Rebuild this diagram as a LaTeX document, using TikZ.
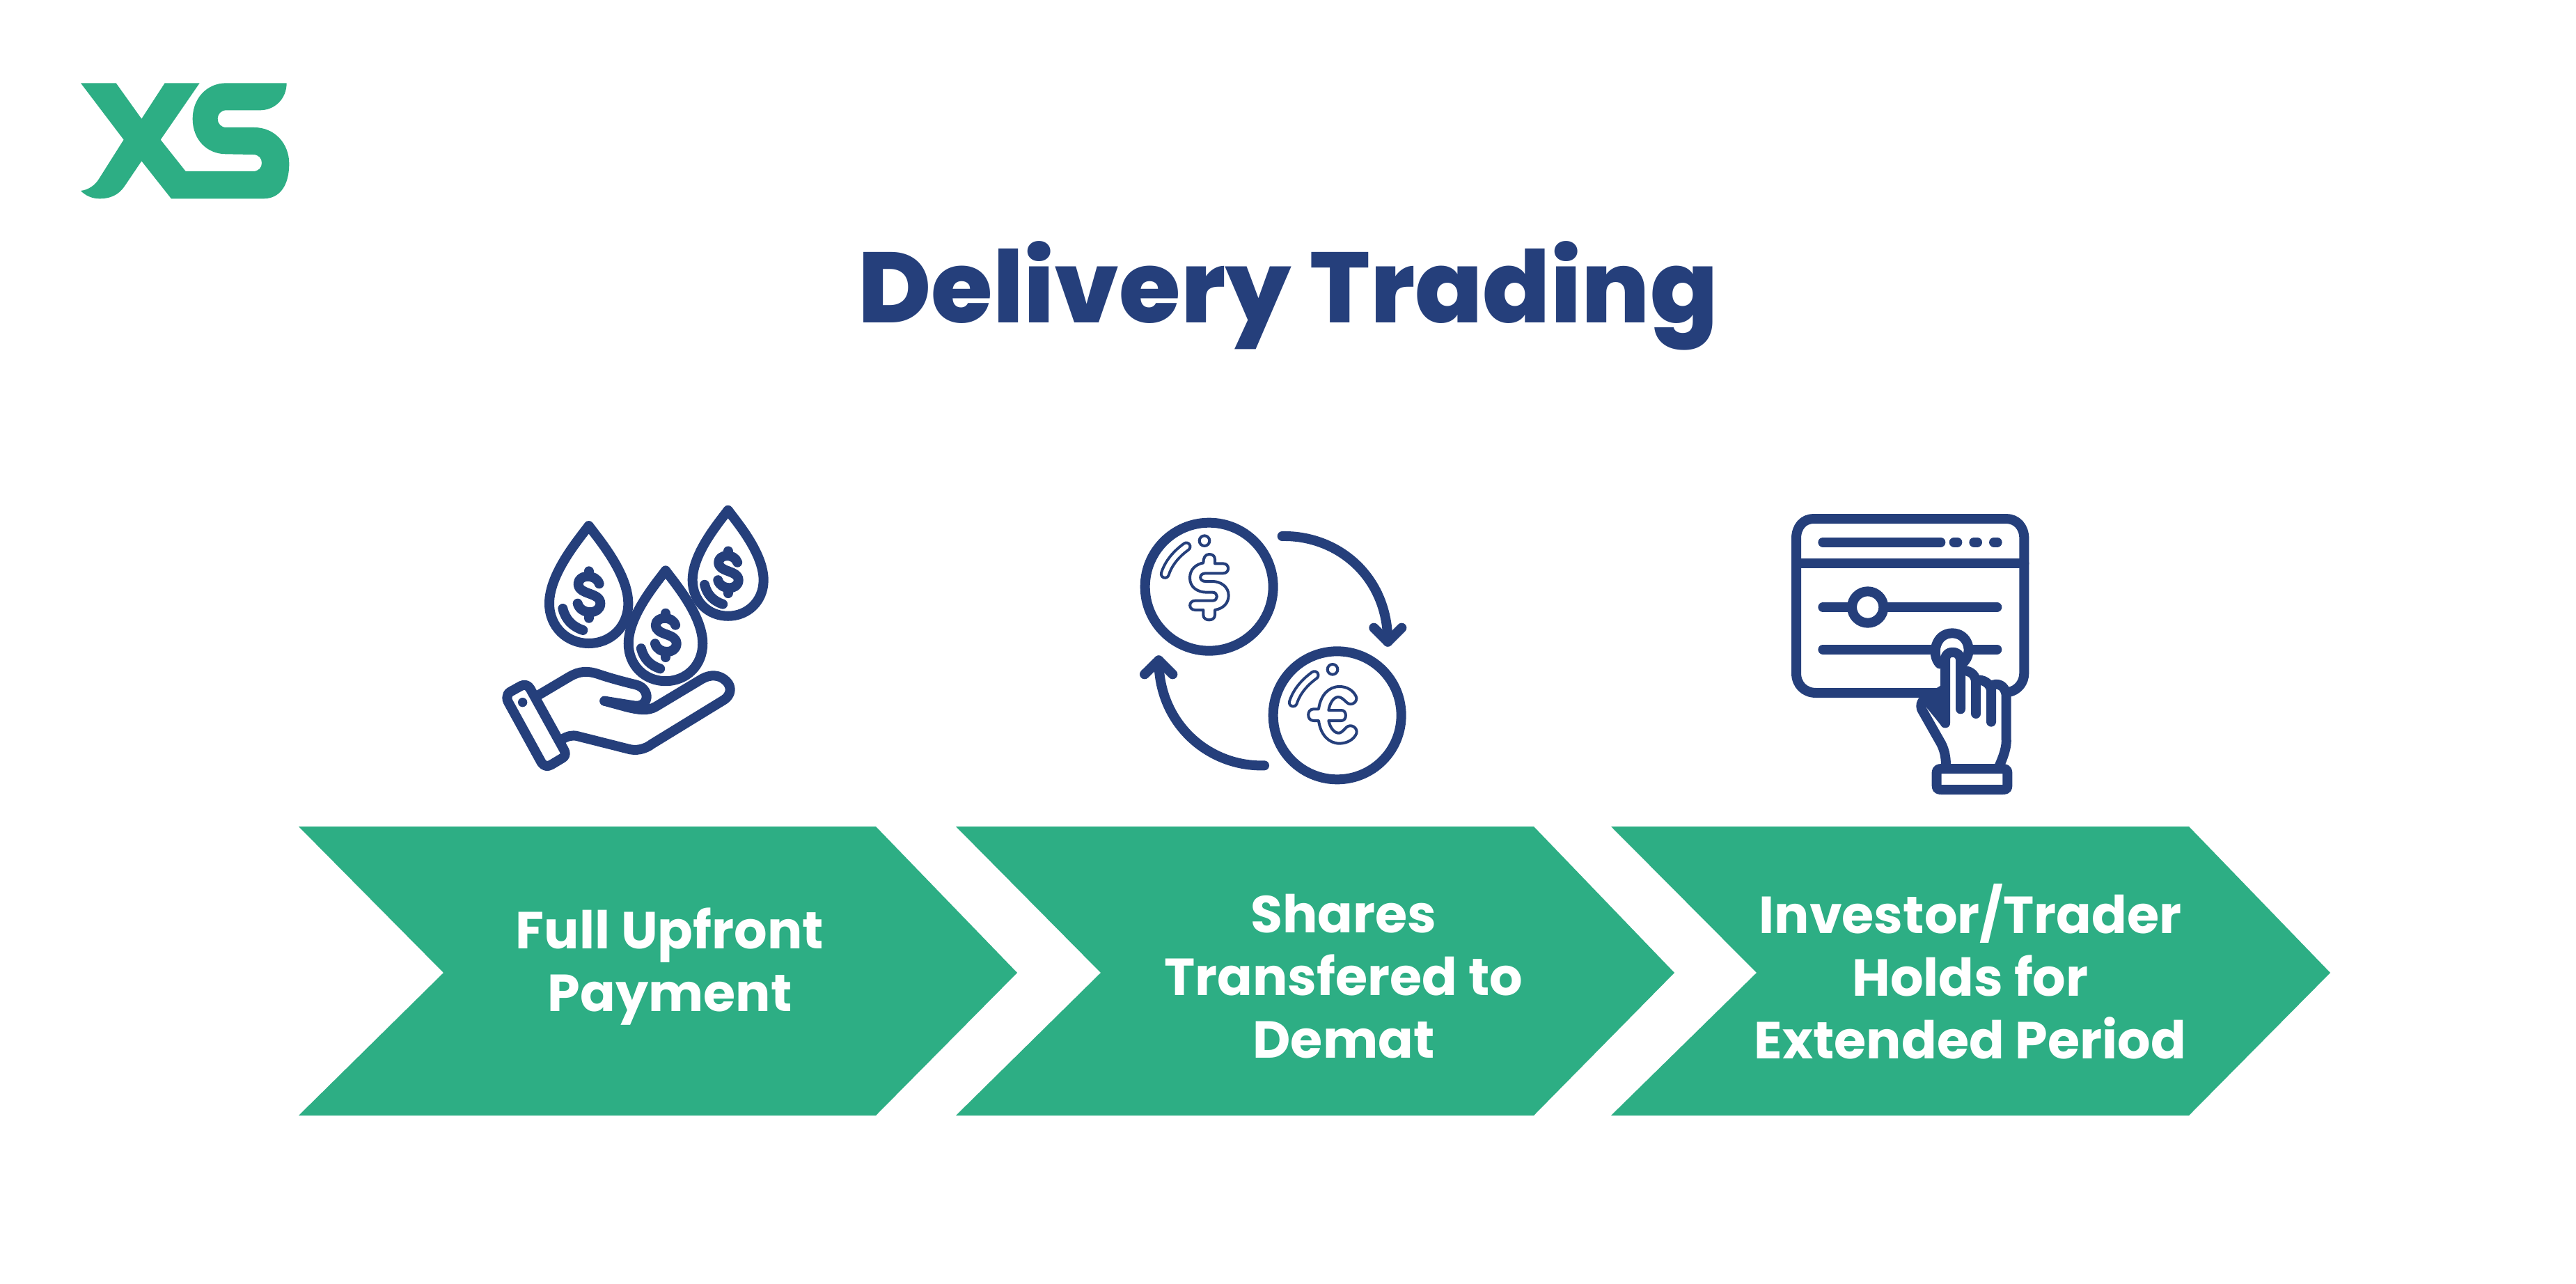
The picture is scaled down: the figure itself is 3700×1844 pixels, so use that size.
\documentclass[tikz,border=0pt]{standalone}
\usepackage{fontspec}
\setmainfont{Poppins}
\newfontfamily\titlefont{Poppins ExtraBold}
\definecolor{xsgreen}{HTML}{2DAE84}
\definecolor{xsnavy}{HTML}{253F7B}
\tikzset{
  x=1pt,y=-1pt,
  chevtext/.style={text=white,font=\bfseries\fontsize{74.8}{90}\selectfont,align=center,inner sep=0pt},
  icon/.style={draw=xsnavy,line width=14pt,line cap=round,line join=round,fill=none},
  thin icon/.style={draw=xsnavy,line width=4pt,line cap=round,line join=round,fill=none},
  shine/.style={draw=xsnavy,double=white,double distance=7pt,line width=4pt,line cap=round},
  zoomed/.style={x=0.33333pt,y=-0.33333pt},
}
\newcommand{\moneydrop}[3]{%
 \begin{scope}[shift={(#1,#2)},scale=#3]
 \draw[icon] (0,0) .. controls (40,55) and (170,205) .. (170,335) .. controls (170,435) and (95,507) .. (0,507)
   .. controls (-95,507) and (-170,435) .. (-170,335) .. controls (-170,205) and (-40,55) .. (0,0) -- cycle;
 \draw[line width=14pt,draw=xsnavy,line cap=round,line join=round] (45,250) .. controls (30,205) and (-45,210) .. (-45,250)
   .. controls (-45,300) and (50,285) .. (50,335) .. controls (50,385) and (-35,385) .. (-48,335);
 \draw[line width=14pt,draw=xsnavy,line cap=round] (0,196) -- (0,212) (0,382) -- (0,398);
 \draw[icon] (-112,357) .. controls (-100,405) and (-70,435) .. (-25,450);
 \end{scope}}
\newcommand{\coinmark}[2]{%
 \draw[thin icon] (#1-20,#2-198) circle[radius=22];
 \draw[shine] (#1-190,#2-55) .. controls (#1-175,#2-103) and (#1-140,#2-143) .. (#1-98,#2-173);}
\begin{document}
\begin{tikzpicture}
\useasboundingbox (0,0) rectangle (3700,1844);
\fill[white] (0,0) rectangle (3700,1844);
% logo
\begin{scope}[shift={(80,90)},zoomed]
\fill[xsgreen] (108,88) -- (260,88) -- (370,242) -- (470,88) -- (620,88) -- (452,332) -- (560,468) -- (850,468)
 .. controls (875,468) and (888,452) .. (888,432) .. controls (888,412) and (875,396) .. (850,396)
 -- (735,394) .. controls (650,394) and (590,330) .. (590,242) .. controls (590,155) and (650,88) .. (735,88)
 -- (995,88) .. controls (995,155) and (945,205) .. (880,205) -- (735,205)
 .. controls (712,205) and (698,222) .. (698,242) .. controls (698,262) and (712,279) .. (735,279)
 -- (855,279) .. controls (945,279) and (1006,350) .. (1006,435) .. controls (1006,530) and (965,586) .. (895,586)
 -- (498,586) -- (370,424) -- (295,535) .. controls (270,570) and (235,586) .. (190,586)
 .. controls (155,586) and (128,572) .. (108,552) .. controls (140,548) and (170,530) .. (190,495)
 -- (293,332) -- cycle;
\end{scope}
% title
\node[inner sep=0pt,text=xsnavy,font=\titlefont\fontsize{143.5}{160}\selectfont] (title) at (1850,425) {Delivery Trading};
% chevrons
\fill[xsgreen] (429,1187) -- (1258,1187) -- (1461,1397) -- (1258,1602) -- (429,1602) -- (637,1397) -- cycle;
\fill[xsgreen] (1373,1187) -- (2203,1187) -- (2405,1397) -- (2203,1602) -- (1373,1602) -- (1581,1397) -- cycle;
\fill[xsgreen] (2314,1187) -- (3144,1187) -- (3347,1397) -- (3144,1602) -- (2314,1602) -- (2523,1397) -- cycle;
\node[chevtext] (t1) at (962,1388) {Full Upfront\\Payment};
\node[chevtext] (t2) at (1930,1402) {Shares\\Transfered to\\Demat};
\node[chevtext] (t3) at (2830,1395) {Investor/Trader\\Holds for\\Extended Period};
% icon 1
\begin{scope}[shift={(700,700)},zoomed]
\moneydrop{437}{165}{1}
\moneydrop{768}{358}{.94}
\moneydrop{1037}{98}{.90}
% hand
\draw[icon] (215,898) -- (355,815) .. controls (395,792) and (430,788) .. (480,805)
  .. controls (530,822) and (590,838) .. (640,850) .. controls (680,860) and (690,895) .. (685,910)
  .. controls (680,935) and (655,945) .. (630,940) -- (505,920);
\draw[icon] (505,920) -- (600,946) .. controls (650,958) and (690,965) .. (725,945) -- (925,825)
  .. controls (960,805) and (1000,805) .. (1030,835) .. controls (1055,860) and (1050,895) .. (1020,915)
  -- (710,1105) .. controls (680,1128) and (640,1138) .. (600,1125) -- (390,1072)
  .. controls (365,1065) and (345,1072) .. (322,1085);
\draw[icon] (85,905) .. controls (85,895) and (90,885) .. (100,880) -- (145,855)
  .. controls (160,848) and (175,850) .. (185,868) -- (330,1130)
  .. controls (340,1150) and (335,1160) .. (320,1168) -- (275,1195)
  .. controls (258,1205) and (243,1200) .. (233,1185) -- (90,925) .. controls (86,918) and (85,912) .. (85,905) -- cycle;
\fill[xsnavy] (152,926) circle[radius=20];
\end{scope}
% icon 2
\begin{scope}[shift={(1610,720)},zoomed]
\draw[icon] (380,368) circle[radius=276];
\draw[icon] (932,922) circle[radius=276];
\draw[icon] (695,150) .. controls (930,145) and (1150,320) .. (1150,605);
\draw[icon] (1090,545) -- (1150,605) -- (1210,545);
\draw[icon] (618,1138) .. controls (380,1145) and (163,960) .. (163,685);
\draw[icon] (102,745) -- (163,685) -- (223,745);
\coinmark{380}{368}
\coinmark{932}{922}
\draw[thin icon] (380,228) .. controls (362,228) and (355,245) .. (355,265) .. controls (320,272) and (297,295) .. (297,330)
  .. controls (297,370) and (330,392) .. (370,392) -- (395,392) .. controls (420,392) and (420,428) .. (395,428)
  -- (320,428) .. controls (290,428) and (290,468) .. (320,468) -- (355,468) -- (355,490)
  .. controls (355,518) and (405,518) .. (405,490) -- (405,468) .. controls (440,462) and (464,440) .. (464,405)
  .. controls (464,368) and (430,345) .. (395,345) -- (365,345) .. controls (335,345) and (335,310) .. (365,310)
  -- (440,310) .. controls (470,310) and (470,268) .. (440,268) -- (405,268) -- (405,250) .. controls (405,235) and (395,228) .. (380,228) -- cycle;
\draw[thin icon] (942,798) .. controls (895,798) and (860,835) .. (852,895) -- (830,895)
  .. controls (800,895) and (800,945) .. (830,945) -- (852,945)
  .. controls (860,1005) and (895,1043) .. (942,1043) .. controls (975,1043) and (1005,1025) .. (1015,1000)
  .. controls (1022,975) and (990,955) .. (970,975) .. controls (955,992) and (945,1000) .. (935,998)
  .. controls (915,995) and (900,970) .. (895,945) -- (950,945) .. controls (975,945) and (975,900) .. (950,900)
  -- (895,900) .. controls (900,870) and (915,845) .. (935,843) .. controls (950,842) and (960,855) .. (975,868)
  .. controls (995,885) and (1025,860) .. (1012,838) .. controls (1000,815) and (975,798) .. (942,798) -- cycle;
\end{scope}
% icon 3
\begin{scope}[shift={(2540,720)},zoomed]
\draw[icon] (745,825) -- (205,825) .. controls (155,825) and (120,790) .. (120,740) -- (120,160)
 .. controls (120,110) and (150,75) .. (195,75) -- (1025,75) .. controls (1070,75) and (1102,110) .. (1102,160)
 -- (1102,740) .. controls (1102,780) and (1075,815) .. (1035,822);
\draw[icon] (120,268) -- (1102,268);
\draw[icon] (235,176) -- (742,176);
\draw[icon] (800,176) -- (814,176) (886,176) -- (900,176) (972,176) -- (986,176);
\draw[icon] (235,456) -- (340,456) (515,456) -- (985,456);
\draw[icon] (428,456) circle[radius=68];
\draw[icon] (235,638) -- (710,638) (880,638) -- (985,638);
\draw[icon] (738,700) .. controls (700,660) and (720,568) .. (792,568) .. controls (860,568) and (885,650) .. (840,695);
% hand
\fill[xsnavy] (650,850) -- (765,780) -- (765,965) -- (740,960) -- cycle;
\draw[icon] (762,955) -- (762,680) .. controls (762,640) and (825,640) .. (828,680) -- (828,895);
\draw[icon] (830,730) .. controls (865,725) and (892,745) .. (894,775) -- (894,915);
\draw[icon] (894,770) .. controls (925,765) and (958,785) .. (960,815) -- (960,950);
\draw[icon] (960,795) .. controls (985,780) and (1020,790) .. (1025,835) -- (1025,1020)
  .. controls (1028,1060) and (1012,1100) .. (995,1140);
\draw[icon] (762,955) -- (700,860) .. controls (680,840) and (650,860) .. (660,895)
  -- (745,1045) .. controls (760,1075) and (765,1105) .. (765,1140);
\draw[icon] (745,1152) -- (1010,1152) .. controls (1025,1152) and (1030,1158) .. (1030,1170)
  -- (1030,1225) .. controls (1030,1238) and (1025,1242) .. (1010,1242) -- (745,1242)
  .. controls (730,1242) and (725,1238) .. (725,1225) -- (725,1170) .. controls (725,1158) and (730,1152) .. (745,1152) -- cycle;
\end{scope}
\end{tikzpicture}
\end{document}
